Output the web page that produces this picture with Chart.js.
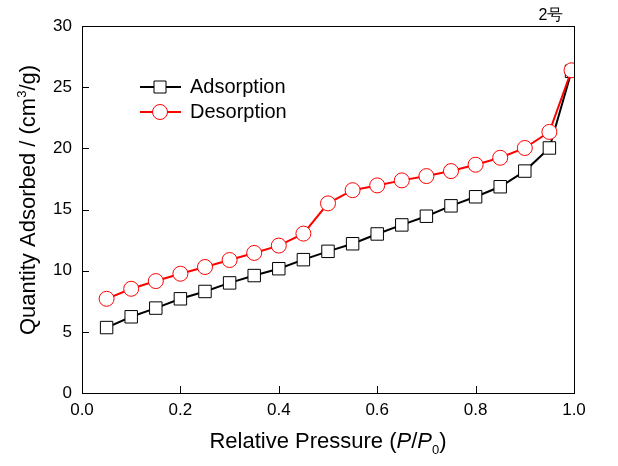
<!DOCTYPE html>
<html>
<head>
<meta charset="utf-8">
<script src="https://cdn.jsdelivr.net/npm/chart.js@4.4.0/dist/chart.umd.min.js"></script>
<style>
  html, body { margin: 0; padding: 0; background: #fff; }
  #wrap { width: 618px; height: 466px; }
</style>
</head>
<body>
<div id="wrap"><canvas id="iso"></canvas></div>
<script>
// isotherm data
var pressure = [0.05, 0.10, 0.15, 0.20, 0.25, 0.30, 0.35, 0.40, 0.45, 0.50,
                0.55, 0.60, 0.65, 0.70, 0.75, 0.80, 0.85, 0.90, 0.95, 0.995];
var adsorption = [5.35, 6.23, 6.94, 7.7, 8.3, 9.0, 9.6, 10.16, 10.9, 11.58,
                  12.2, 13.0, 13.74, 14.45, 15.3, 16.04, 16.86, 18.14, 20.03, 26.3];
var desorption = [7.7, 8.52, 9.15, 9.75, 10.3, 10.87, 11.45, 12.05, 13.03, 15.5,
                  16.58, 16.97, 17.38, 17.73, 18.14, 18.66, 19.23, 20.03, 21.34, 26.38];
var xTicks = [0, 0.2, 0.4, 0.6, 0.8, 1.0];
var yTicks = [0, 5, 10, 15, 20, 25, 30];
var seriesNames = ['Adsorption', 'Desorption'];
var sampleLabel = '2号';

var FONT = '"Liberation Sans", Arial, sans-serif';

function toPoints(xs, ys) {
    return xs.map(function(x, i) { return { x: x, y: ys[i] }; });
}

// frame, inward ticks, axis titles, legend and sample label
var decorPlugin = {
    id: 'decor',
    afterDraw: function(chart) {
        var ctx = chart.ctx;
        var a = chart.chartArea;
        var xs = chart.scales.x, ys = chart.scales.y;
        ctx.save();
        ctx.strokeStyle = '#000';
        ctx.lineWidth = 1;
        ctx.strokeRect(Math.round(a.left) + 0.5, Math.round(a.top) + 0.5,
                       Math.round(a.right - a.left), Math.round(a.bottom - a.top));

        ctx.beginPath();
        xTicks.forEach(function(v) {
            var px = Math.round(xs.getPixelForValue(v)) + 0.5;
            ctx.moveTo(px, a.bottom);
            ctx.lineTo(px, a.bottom - 7);
        });
        yTicks.forEach(function(v) {
            var py = Math.round(ys.getPixelForValue(v)) + 0.5;
            ctx.moveTo(a.left, py);
            ctx.lineTo(a.left + 7, py);
        });
        ctx.stroke();

        ctx.fillStyle = '#000';
        ctx.textBaseline = 'alphabetic';

        // x title: Relative Pressure (P/P0)
        var big = '22px ' + FONT, bigIt = 'italic 22px ' + FONT, small = '13px ' + FONT;
        var parts = [
            { t: 'Relative Pressure (', f: big, dy: 0 },
            { t: 'P', f: bigIt, dy: 0 },
            { t: '/', f: big, dy: 0 },
            { t: 'P', f: bigIt, dy: 0 },
            { t: '0', f: small, dy: 6 },
            { t: ')', f: big, dy: 0 }
        ];
        var total = 0;
        parts.forEach(function(p) { ctx.font = p.f; p.w = ctx.measureText(p.t).width; total += p.w; });
        var cx = (a.left + a.right) / 2 - total / 2;
        var by = 448;
        parts.forEach(function(p) {
            ctx.font = p.f;
            ctx.fillText(p.t, cx, by + p.dy);
            cx += p.w;
        });

        // y title: Quantity Adsorbed / (cm3/g)
        ctx.save();
        ctx.translate(35, 200);
        ctx.rotate(-Math.PI / 2);
        var yParts = [
            { t: 'Quantity Adsorbed / (cm', f: big, dy: 0 },
            { t: '3', f: small, dy: -9 },
            { t: '/g)', f: big, dy: 0 }
        ];
        var yt = 0;
        yParts.forEach(function(p) { ctx.font = p.f; p.w = ctx.measureText(p.t).width; yt += p.w; });
        var tx = -yt / 2;
        yParts.forEach(function(p) {
            ctx.font = p.f;
            ctx.fillText(p.t, tx, p.dy);
            tx += p.w;
        });
        ctx.restore();

        // legend
        var rows = [
            { name: seriesNames[0], color: '#000', y: 87, shape: 'rect' },
            { name: seriesNames[1], color: '#ff0000', y: 112, shape: 'circle' }
        ];
        rows.forEach(function(r) {
            ctx.strokeStyle = r.color;
            ctx.lineWidth = 2;
            ctx.beginPath();
            ctx.moveTo(140, r.y);
            ctx.lineTo(181, r.y);
            ctx.stroke();
            ctx.lineWidth = 1;
            ctx.fillStyle = '#fff';
            ctx.beginPath();
            if (r.shape === 'rect') {
                ctx.rect(154, r.y - 6, 12, 12);
            } else {
                ctx.arc(160, r.y, 7.5, 0, Math.PI * 2);
            }
            ctx.fill();
            ctx.stroke();
            ctx.fillStyle = '#000';
            ctx.font = '20px ' + FONT;
            ctx.textBaseline = 'middle';
            ctx.fillText(r.name, 190, r.y);
        });

        // sample label above top-right corner
        ctx.font = '16px ' + FONT;
        ctx.textAlign = 'center';
        ctx.textBaseline = 'middle';
        ctx.fillText(sampleLabel, 551, 16);
        ctx.restore();
    }
};

var ctxIso = document.getElementById('iso');
new Chart(ctxIso, {
    type: 'scatter',
    data: {
        datasets: [{
            label: seriesNames[0],
            data: toPoints(pressure, adsorption),
            showLine: true,
            borderColor: '#000',
            borderWidth: 2,
            pointStyle: 'rect',
            pointRadius: 8.8,
            pointBorderWidth: 1,
            pointBorderColor: '#000',
            pointBackgroundColor: '#fff',
            order: 2
        }, {
            label: seriesNames[1],
            data: toPoints(pressure, desorption),
            showLine: true,
            borderColor: '#ff0000',
            borderWidth: 2,
            pointStyle: 'circle',
            pointRadius: 7.5,
            pointBorderWidth: 1,
            pointBorderColor: '#ff0000',
            pointBackgroundColor: '#fff',
            order: 1
        }]
    },
    options: {
        responsive: true,
        maintainAspectRatio: false,
        animation: false,
        layout: { padding: { top: 26, right: 44, left: 0, bottom: 0 } },
        plugins: {
            legend: { display: false },
            tooltip: { enabled: false }
        },
        scales: {
            x: {
                type: 'linear',
                min: 0,
                max: 1,
                afterFit: function(scale) { scale.height = 73; },
                afterBuildTicks: function(scale) {
                    scale.ticks = xTicks.map(function(v) { return { value: v }; });
                },
                grid: { display: false, drawTicks: false },
                border: { display: false },
                ticks: {
                    padding: 7,
                    color: '#000',
                    font: { family: FONT, size: 17 },
                    callback: function(v) { return v.toFixed(1); }
                }
            },
            y: {
                type: 'linear',
                min: 0,
                max: 30,
                afterFit: function(scale) { scale.width = 82; },
                afterBuildTicks: function(scale) {
                    scale.ticks = yTicks.map(function(v) { return { value: v }; });
                },
                grid: { display: false, drawTicks: false },
                border: { display: false },
                ticks: {
                    padding: 10,
                    color: '#000',
                    font: { family: FONT, size: 17 }
                }
            }
        }
    },
    plugins: [decorPlugin]
});
</script>
</body>
</html>
